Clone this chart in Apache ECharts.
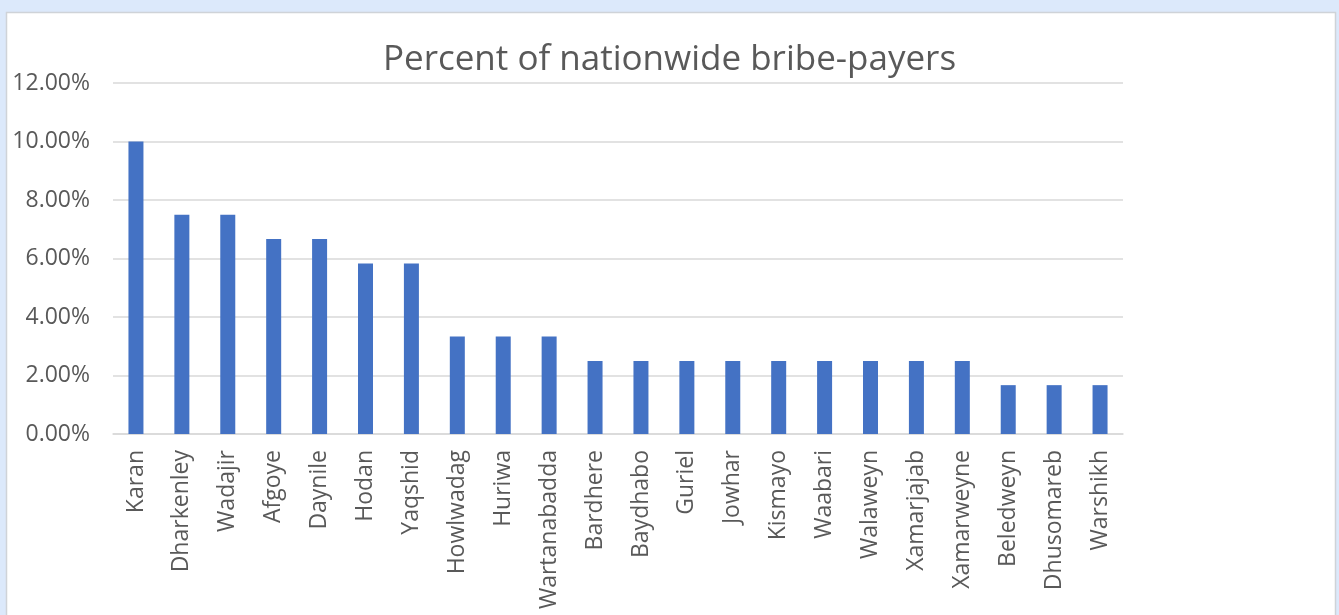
<!DOCTYPE html>
<html>
<head>
<meta charset="utf-8">
<script src="https://cdn.jsdelivr.net/npm/echarts@6/dist/echarts.min.js"></script>
<style>
  html, body { margin: 0; padding: 0; background: #dce9fb; }
  #chart { width: 1339px; height: 615px; }
</style>
</head>
<body>
<div id="chart"></div>
<script>
// Districts, ordered by share of bribe-payers
const districts = [
  'Karan', 'Dharkenley', 'Wadajir', 'Afgoye', 'Daynile', 'Hodan', 'Yaqshid',
  'Howlwadag', 'Huriwa', 'Wartanabadda', 'Bardhere', 'Baydhabo', 'Guriel',
  'Jowhar', 'Kismayo', 'Waabari', 'Walaweyn', 'Xamarjajab', 'Xamarweyne',
  'Beledweyn', 'Dhusomareb', 'Warshikh'
];
// Share of nationwide bribe-payers, in percent
const sharePct = [
  10.00, 7.50, 7.50, 6.67, 6.67, 5.83, 5.83,
  3.33, 3.33, 3.33, 2.50, 2.50, 2.50,
  2.50, 2.50, 2.50, 2.50, 2.50, 2.50,
  1.67, 1.67, 1.67
];
const chartTitle = 'Percent of nationwide bribe-payers';

const textGrey = '#595959';
const gridGrey = '#d9d9d9';
const font = 'Open Sans';

const chart = echarts.init(document.getElementById('chart'));
chart.setOption({
  backgroundColor: '#dce9fb',
  animation: false,
  graphic: [{
    type: 'rect',
    z: -10,
    silent: true,
    shape: { x: 6.5, y: 12.5, width: 1329, height: 610 },
    style: { fill: '#ffffff', stroke: '#cfd3d8', lineWidth: 1.5 }
  }],
  title: {
    text: chartTitle,
    left: 'center',
    top: 38,
    textStyle: { color: textGrey, fontFamily: font, fontSize: 35, fontWeight: 'normal' }
  },
  grid: { left: 113, right: 216, top: 83, bottom: 181, containLabel: false },
  xAxis: {
    type: 'category',
    data: districts,
    axisLine: { lineStyle: { color: gridGrey, width: 1.5 } },
    axisTick: { show: false },
    axisLabel: {
      interval: 0,
      rotate: 90,
      margin: 16,
      color: textGrey,
      fontFamily: font,
      fontSize: 23
    }
  },
  yAxis: {
    type: 'value',
    min: 0,
    max: 12,
    interval: 2,
    axisLine: { show: false },
    axisTick: { show: false },
    splitLine: { lineStyle: { color: gridGrey, width: 1.5 } },
    axisLabel: {
      margin: 23,
      color: textGrey,
      fontFamily: font,
      fontSize: 23,
      formatter: v => v.toFixed(2) + '%'
    }
  },
  series: [{
    type: 'bar',
    data: sharePct,
    barWidth: 15,
    itemStyle: { color: '#4472c4' }
  }]
});
</script>
</body>
</html>
